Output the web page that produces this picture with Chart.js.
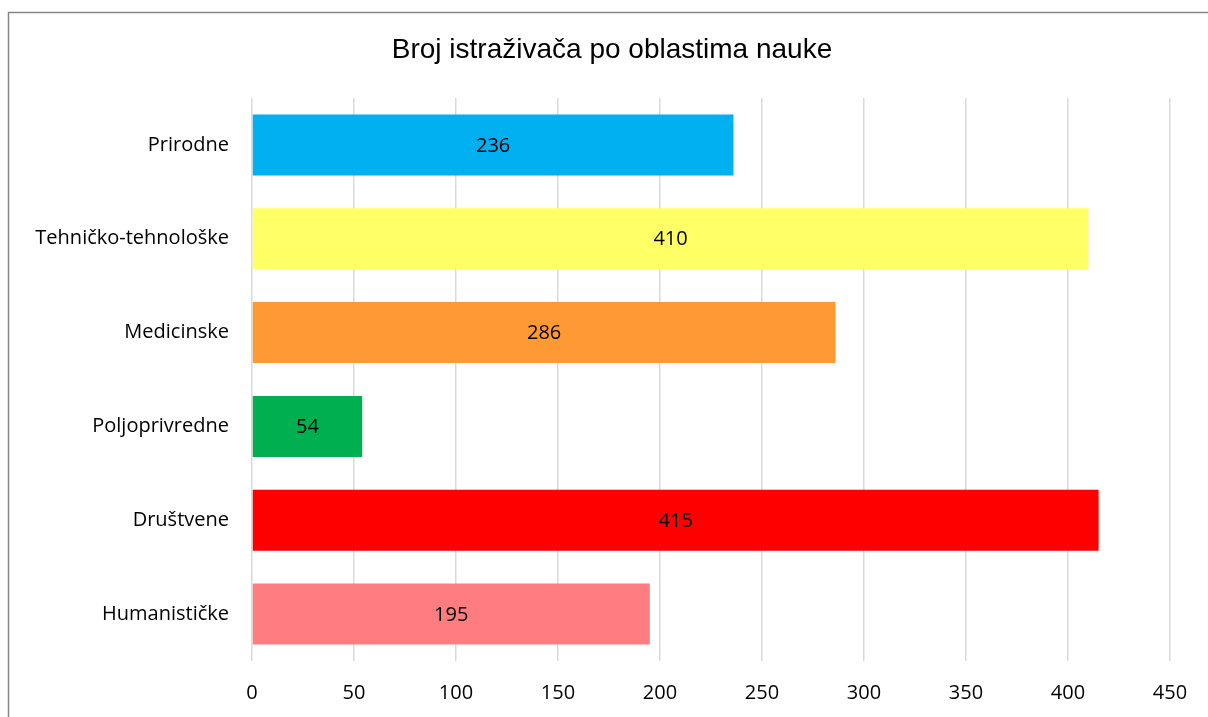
<!DOCTYPE html>
<html>
<head>
<meta charset="utf-8">
<script src="https://cdn.jsdelivr.net/npm/chart.js@4"></script>
<style>
  html, body { margin: 0; padding: 0; background: #fff; }
  #wrap { width: 1208px; height: 717px; position: relative; }
</style>
</head>
<body>
<div id="wrap"><canvas id="myChart" width="1208" height="717"></canvas></div>
<script>
const chartTitle = 'Broj istraživača po oblastima nauke'
const categories = ['Prirodne', 'Tehničko-tehnološke', 'Medicinske', 'Poljoprivredne', 'Društvene', 'Humanističke']
const researchers = [236, 410, 286, 54, 415, 195]
const barColors = ['#00b0f0', '#ffff66', '#ff9933', '#00b050', '#ff0000', '#ff7c80']
const xTicks = [0, 50, 100, 150, 200, 250, 300, 350, 400, 450]

const labelFont = '"Open Sans", "Noto Sans", sans-serif'

// frame around the chart and the title (title sits off-centre in the original)
const framePlugin = {
  id: 'frame',
  beforeDraw(chart) {
    const ctx = chart.ctx
    ctx.save()
    ctx.fillStyle = '#fff'
    ctx.fillRect(0, 0, chart.width, chart.height)
    ctx.strokeStyle = '#868686'
    ctx.lineWidth = 1.5
    ctx.strokeRect(8.5, 12.5, 1400, 900)
    ctx.fillStyle = '#000'
    ctx.font = '28px "Liberation Sans", Arial, sans-serif'
    ctx.textAlign = 'center'
    ctx.textBaseline = 'middle'
    ctx.fillText(chartTitle, 612, 50)
    ctx.restore()
  }
}

// value in the middle of each bar
const valueLabels = {
  id: 'valueLabels',
  afterDatasetsDraw(chart) {
    const ctx = chart.ctx
    const meta = chart.getDatasetMeta(0)
    ctx.save()
    ctx.font = '20px ' + labelFont
    ctx.fillStyle = '#000'
    ctx.textAlign = 'center'
    ctx.textBaseline = 'middle'
    meta.data.forEach((bar, i) => {
      const p = bar.getProps(['x', 'y', 'base'], true)
      ctx.fillText(researchers[i], (p.x + p.base) / 2, p.y + 1)
    })
    ctx.restore()
  }
}

var ctx = document.getElementById('myChart')
new Chart(ctx, {
  type: 'bar',
  data: {
    labels: categories,
    datasets: [{
      data: researchers,
      backgroundColor: barColors,
      borderWidth: 0,
      categoryPercentage: 1,
      barPercentage: 0.65
    }]
  },
  plugins: [framePlugin, valueLabels],
  options: {
    indexAxis: 'y',
    responsive: false,
    animation: false,
    layout: { padding: { left: 0, right: 38, top: 98, bottom: -8 } },
    plugins: {
      legend: { display: false },
      tooltip: { enabled: false },
      title: { display: false }
    },
    scales: {
      x: {
        min: 0,
        max: 450,
        afterBuildTicks(scale) {
          scale.ticks = xTicks.map(v => ({ value: v }))
        },
        grid: { color: '#d9d9d9', lineWidth: 1.5, drawTicks: false },
        border: { display: false },
        ticks: { color: '#000', padding: 20, font: { family: labelFont, size: 20 } }
      },
      y: {
        grid: { display: false, drawTicks: false },
        border: { display: false },
        ticks: { color: '#000', padding: 23, font: { family: labelFont, size: 20 } },
        afterFit(scale) { scale.width = 252 }
      }
    }
  }
})
</script>
</body>
</html>
